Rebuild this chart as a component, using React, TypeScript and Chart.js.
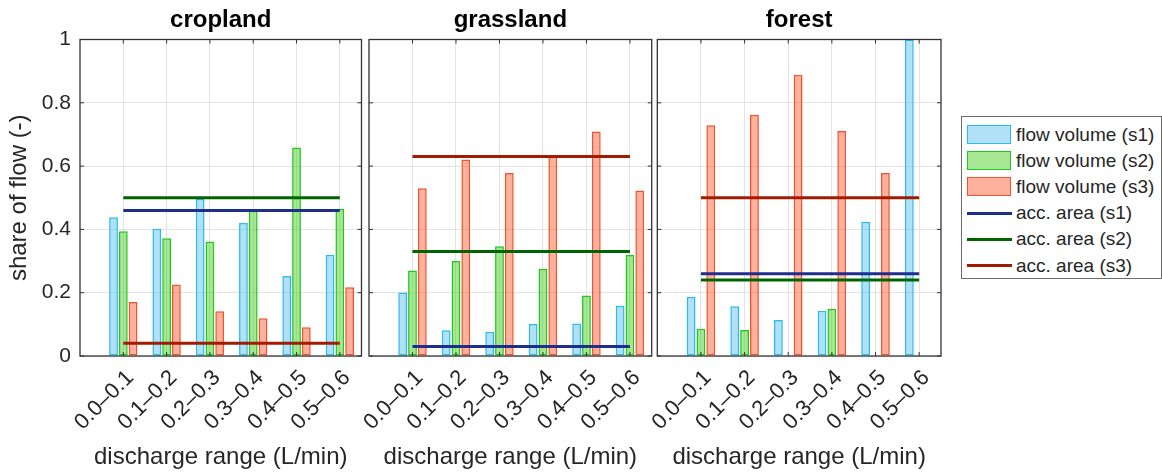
import { useEffect, useRef } from 'react';
import { Chart, registerables } from 'chart.js';

Chart.register(...registerables);

// Discharge classes on the x axis
const categories = ['0.0–0.1', '0.1–0.2', '0.2–0.3', '0.3–0.4', '0.4–0.5', '0.5–0.6'];

// y axis ticks
const yTickValues = [0, 0.2, 0.4, 0.6, 0.8, 1];
const yTickLabels = ['0', '0.2', '0.4', '0.6', '0.8', '1'];

// cropland: flow volume share per discharge class, per scenario
const croplandFlowS1 = [0.438, 0.402, 0.497, 0.42, 0.253, 0.32];
const croplandFlowS2 = [0.394, 0.372, 0.362, 0.459, 0.659, 0.465];
const croplandFlowS3 = [0.171, 0.226, 0.141, 0.119, 0.091, 0.217];
// cropland: contributing (accumulated) area share, scenarios s1..s3
const croplandArea = [0.46, 0.5, 0.04];

// grassland
const grasslandFlowS1 = [0.201, 0.081, 0.077, 0.101, 0.103, 0.159];
const grasslandFlowS2 = [0.27, 0.3, 0.347, 0.276, 0.191, 0.319];
const grasslandFlowS3 = [0.53, 0.621, 0.578, 0.63, 0.709, 0.523];
const grasslandArea = [0.03, 0.33, 0.63];

// forest
const forestFlowS1 = [0.187, 0.157, 0.114, 0.143, 0.424, 1.0];
const forestFlowS2 = [0.086, 0.082, 0, 0.149, 0, 0];
const forestFlowS3 = [0.729, 0.762, 0.889, 0.711, 0.578, 0];
const forestArea = [0.26, 0.24, 0.5];

const seriesNames = [
  'flow volume (s1)',
  'flow volume (s2)',
  'flow volume (s3)',
  'acc. area (s1)',
  'acc. area (s2)',
  'acc. area (s3)',
];

const FONT = '"Liberation Sans", Arial, Helvetica, sans-serif';
const TEXT = '#262626';
const GRID = '#e3e3e3';
const FRAME = '#333333';
const TICK_LEN = 4;

const barFill = ['rgba(100, 196, 238, 0.5)', 'rgba(80, 205, 40, 0.5)', 'rgba(255, 100, 60, 0.5)'];
const barEdge = ['#2bbcef', '#1fc81f', '#f0532e'];
const lineColors = ['#1f2d8c', '#006400', '#a01c00'];

const CANVAS_H = 473;
const X_AXIS_H = 117;

type PanelSpec = {
  title: string;
  flows: number[][];
  areas: number[];
  canvasLeft: number;
  canvasWidth: number;
  axisWidth: number;
  padRight: number;
  showY: boolean;
};

// Box around the plot area plus MATLAB-style inward tick marks
const axisFrame = {
  id: 'axisFrame',
  afterDatasetsDraw(chart: any) {
    const { ctx, chartArea, scales } = chart;
    const { left, right, top, bottom } = chartArea;
    ctx.save();
    ctx.strokeStyle = FRAME;
    ctx.lineWidth = 1;
    ctx.beginPath();
    scales.x.ticks.forEach((t: any) => {
      const px = scales.x.getPixelForValue(t.value);
      ctx.moveTo(px, bottom);
      ctx.lineTo(px, bottom - TICK_LEN);
      ctx.moveTo(px, top);
      ctx.lineTo(px, top + TICK_LEN);
    });
    scales.y.ticks.forEach((t: any) => {
      const py = scales.y.getPixelForValue(t.value);
      ctx.moveTo(left, py);
      ctx.lineTo(left + TICK_LEN, py);
      ctx.moveTo(right, py);
      ctx.lineTo(right - TICK_LEN, py);
    });
    ctx.stroke();
    ctx.lineWidth = 1.3;
    ctx.strokeRect(left, top, right - left, bottom - top);
    ctx.restore();
  },
};

function Panel({ spec }: { spec: PanelSpec }) {
  const ref = useRef<HTMLCanvasElement>(null);

  useEffect(() => {
    const canvas = ref.current;
    if (!canvas) return;

    const barSets = spec.flows.map((vals, k) => ({
      type: 'bar' as const,
      label: seriesNames[k],
      data: vals.map((v, i) => ({ x: i, y: v })),
      backgroundColor: barFill[k],
      borderColor: barEdge[k],
      borderWidth: 1.5,
      borderSkipped: false,
      categoryPercentage: 0.677,
      barPercentage: 0.9,
      order: 1,
    }));

    const lineSets = spec.areas.map((a, k) => ({
      type: 'line' as const,
      label: seriesNames[k + 3],
      data: [
        { x: 0, y: a },
        { x: categories.length - 1, y: a },
      ],
      borderColor: lineColors[k],
      backgroundColor: lineColors[k],
      borderWidth: 3,
      pointRadius: 0,
      fill: false,
      order: 0,
    }));

    const chart = new Chart(canvas, {
      type: 'bar',
      data: { datasets: [...barSets, ...lineSets] as any },
      options: {
        responsive: false,
        animation: false,
        events: [],
        layout: { padding: { left: 0, right: spec.padRight, top: 0, bottom: 0 } },
        plugins: {
          legend: { display: false },
          tooltip: { enabled: false },
          title: {
            display: true,
            text: spec.title,
            color: '#000',
            fullSize: false,
            font: { family: FONT, size: 24, weight: 'bold' },
            padding: { top: 5.5, bottom: 5.2 },
          },
        },
        scales: {
          x: {
            type: 'linear',
            min: -1,
            max: 5.5,
            offset: false,
            afterBuildTicks: (s: any) => {
              s.ticks = categories.map((_, i) => ({ value: i }));
            },
            afterFit: (s: any) => {
              s.height = X_AXIS_H;
            },
            ticks: {
              autoSkip: false,
              maxRotation: 45,
              minRotation: 45,
              padding: 9,
              labelOffset: 7,
              color: TEXT,
              font: { family: FONT, size: 22 },
              callback: (v: any) => categories[v as number] ?? '',
            },
            grid: { color: GRID, drawTicks: false, lineWidth: 1, offset: false },
            border: { display: false },
            title: {
              display: true,
              text: 'discharge range (L/min)',
              color: TEXT,
              font: { family: FONT, size: 24 },
              padding: { top: 0, bottom: 1 },
            },
          },
          y: {
            min: 0,
            max: 1,
            afterBuildTicks: (s: any) => {
              s.ticks = yTickValues.map((v) => ({ value: v }));
            },
            afterFit: (s: any) => {
              s.width = spec.axisWidth;
            },
            ticks: {
              display: spec.showY,
              padding: 9,
              color: TEXT,
              font: { family: FONT, size: 21 },
              callback: (_v: any, i: number) => yTickLabels[i],
            },
            grid: { color: GRID, drawTicks: false, lineWidth: 1 },
            border: { display: false },
            title: {
              display: spec.showY,
              text: 'share of flow (-)',
              color: TEXT,
              font: { family: FONT, size: 24 },
              padding: { top: 5, bottom: 0 },
            },
          },
        },
      } as any,
      plugins: [axisFrame],
    });

    return () => chart.destroy();
  }, [spec]);

  return (
    <canvas
      ref={ref}
      width={spec.canvasWidth}
      height={CANVAS_H}
      style={{
        position: 'absolute',
        left: spec.canvasLeft,
        top: 0,
        width: spec.canvasWidth,
        height: CANVAS_H,
      }}
    />
  );
}

const panels: PanelSpec[] = [
  {
    title: 'cropland',
    flows: [croplandFlowS1, croplandFlowS2, croplandFlowS3],
    areas: croplandArea,
    canvasLeft: 0,
    canvasWidth: 368,
    axisWidth: 80,
    padRight: 5.3,
    showY: true,
  },
  {
    title: 'grassland',
    flows: [grasslandFlowS1, grasslandFlowS2, grasslandFlowS3],
    areas: grasslandArea,
    canvasLeft: 300,
    canvasWidth: 360,
    axisWidth: 69,
    padRight: 8.3,
    showY: false,
  },
  {
    title: 'forest',
    flows: [forestFlowS1, forestFlowS2, forestFlowS3],
    areas: forestArea,
    canvasLeft: 590,
    canvasWidth: 360,
    axisWidth: 67.3,
    padRight: 9,
    showY: false,
  },
];

function Legend() {
  const rowTop = 5;
  const rowStep = 26.1;
  return (
    <div
      style={{
        position: 'absolute',
        left: 961,
        top: 116,
        width: 199,
        height: 161,
        border: '1px solid #6b6b6b',
        background: '#fff',
        fontFamily: FONT,
        fontSize: 19,
        color: TEXT,
      }}
    >
      {seriesNames.map((name, k) => {
        const cy = rowTop + 13 + k * rowStep;
        const isBar = k < 3;
        return (
          <div key={name}>
            {isBar ? (
              <div
                style={{
                  position: 'absolute',
                  left: 5,
                  top: cy - 10,
                  width: 42,
                  height: 17,
                  background: barFill[k],
                  border: `1.5px solid ${barEdge[k]}`,
                }}
              />
            ) : (
              <div
                style={{
                  position: 'absolute',
                  left: 5,
                  top: cy - 1.5,
                  width: 45,
                  height: 3,
                  background: lineColors[k - 3],
                }}
              />
            )}
            <div
              style={{
                position: 'absolute',
                left: 54,
                top: cy - 12,
                lineHeight: '24px',
                whiteSpace: 'nowrap',
              }}
            >
              {name}
            </div>
          </div>
        );
      })}
    </div>
  );
}

export default function App() {
  return (
    <div
      style={{
        position: 'absolute',
        left: 0,
        top: 0,
        width: 1162,
        height: 473,
        background: '#fff',
        overflow: 'hidden',
      }}
    >
      {panels.map((p) => (
        <Panel key={p.title} spec={p} />
      ))}
      <Legend />
    </div>
  );
}
